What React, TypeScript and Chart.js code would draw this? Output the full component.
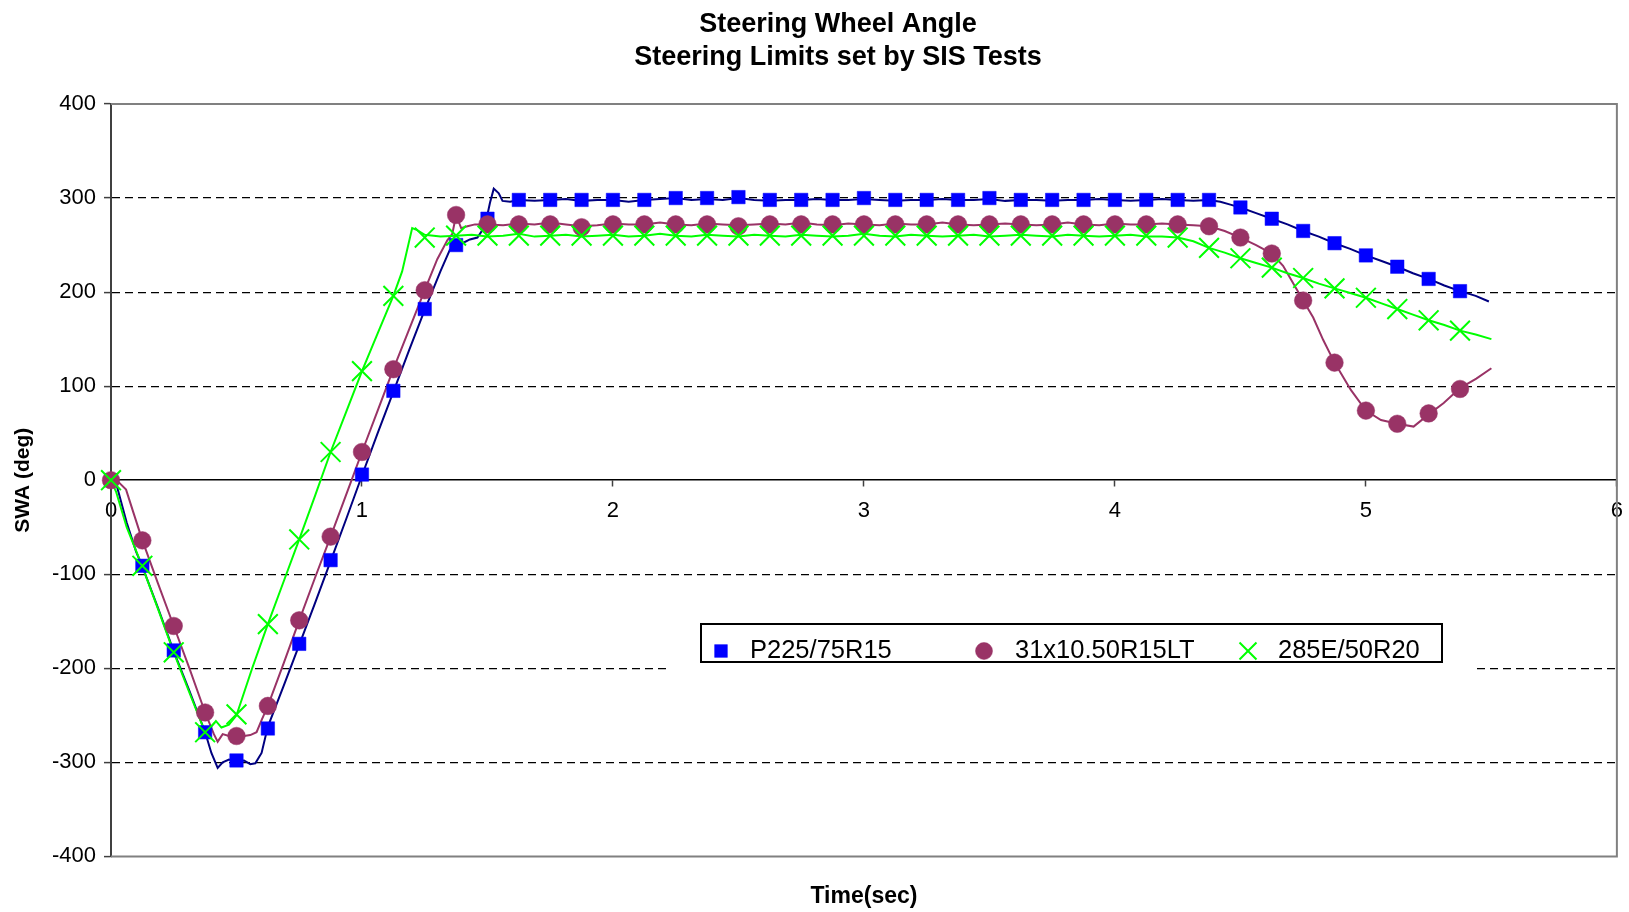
import React, { useEffect, useRef } from 'react';
import { Chart, registerables } from 'chart.js';
import { drawPoint } from 'chart.js/helpers';

Chart.register(...registerables);

const FONT = '"Liberation Sans", Arial, Helvetica, sans-serif';

const TITLE_LINES = ['Steering Wheel Angle', 'Steering Limits set by SIS Tests'];
const X_TITLE = 'Time(sec)';
const Y_TITLE = 'SWA (deg)';
const SERIES_NAMES = ['P225/75R15', '31x10.50R15LT', '285E/50R20'];
const X_TICKS = [0, 1, 2, 3, 4, 5, 6];
const Y_TICKS = [-400, -300, -200, -100, 0, 100, 200, 300, 400];

// marker samples (every 0.125 s)
const MARKER_TIMES = [
  0, 0.125, 0.25, 0.375, 0.5, 0.625, 0.75, 0.875, 1.0, 1.125, 1.25, 1.375, 1.5, 1.625, 1.75,
  1.875, 2.0, 2.125, 2.25, 2.375, 2.5, 2.625, 2.75, 2.875, 3.0, 3.125, 3.25, 3.375, 3.5, 3.625,
  3.75, 3.875, 4.0, 4.125, 4.25, 4.375, 4.5, 4.625, 4.75, 4.875, 5.0, 5.125, 5.25, 5.375,
];
const P225_MARKERS = [
  0, -91, -181, -268, -298, -264, -174, -85, 6, 95, 182, 250, 278, 298, 298, 298, 298, 298, 300,
  300, 301, 298, 298, 298, 300, 298, 298, 298, 300, 298, 298, 298, 298, 298, 298, 298, 290, 278,
  265, 252, 239, 227, 214, 201,
];
const LT31_MARKERS = [
  0, -64, -155, -247, -272, -240, -149, -60, 30, 118, 202, 282, 272, 272, 272, 269, 272, 272, 272,
  272, 270, 272, 272, 272, 272, 272, 272, 272, 272, 272, 272, 272, 272, 272, 272, 270, 258, 241,
  191, 125, 74, 60, 71, 97,
];
const E285_MARKERS = [
  0, -91, -183, -268, -249, -153, -63, 30, 116, 196, 258, 260, 260, 260, 260, 260, 260, 260, 260,
  260, 260, 260, 260, 260, 260, 260, 260, 260, 260, 260, 260, 260, 260, 260, 258, 247, 236, 226,
  215, 204, 194, 182, 170, 159,
];

// continuous traces
const P225_LINE_T = [
  0, 0.02, 0.0625, 0.1, 0.125, 0.1875, 0.25, 0.3125, 0.375, 0.4, 0.425, 0.445, 0.47, 0.5, 0.53,
  0.555, 0.575, 0.6, 0.625, 0.6875, 0.75, 0.8125, 0.875, 0.9375, 1.0, 1.0625, 1.125, 1.1875, 1.25,
  1.3125, 1.35, 1.375, 1.4, 1.43, 1.46, 1.49, 1.51, 1.525, 1.545, 1.56, 1.59, 1.625, 1.6875, 1.75,
  1.8125, 1.875, 1.9375, 2.0, 2.0625, 2.125, 2.1875, 2.25, 2.3125, 2.375, 2.4375, 2.5, 2.5625,
  2.625, 2.6875, 2.75, 2.8125, 2.875, 2.9375, 3.0, 3.0625, 3.125, 3.1875, 3.25, 3.3125, 3.375,
  3.4375, 3.5, 3.5625, 3.625, 3.6875, 3.75, 3.8125, 3.875, 3.9375, 4.0, 4.0625, 4.125, 4.1875,
  4.25, 4.3125, 4.375, 4.42, 4.46, 4.5, 4.5625, 4.625, 4.6875, 4.75, 4.8125, 4.875, 4.9375, 5.0,
  5.0625, 5.125, 5.1875, 5.25, 5.3125, 5.375, 5.4375, 5.49,
];
const P225_LINE_V = [
  0, -3, -45, -76, -92, -136, -182, -224, -268, -290, -306, -300, -297, -299, -298, -302, -301,
  -290, -262, -219, -175, -131, -86, -41, 5, 50, 94, 138, 181, 222, 245, 250, 252, 256, 258, 270,
  295, 310, 305, 297, 296, 298, 297, 298, 299, 297, 298, 298, 296, 298, 299, 300, 298, 299, 298,
  300, 298, 297, 298, 298, 299, 298, 298, 299, 298, 297, 298, 298, 299, 298, 298, 299, 297, 298,
  298, 297, 298, 298, 299, 298, 297, 298, 299, 298, 297, 298, 296, 293, 290, 284, 278, 272, 265,
  259, 252, 246, 239, 233, 227, 220, 214, 207, 201, 196, 190,
];
const LT31_LINE_T = [
  0, 0.03, 0.06, 0.09, 0.125, 0.1875, 0.25, 0.3125, 0.375, 0.41, 0.425, 0.445, 0.47, 0.5, 0.53,
  0.555, 0.58, 0.6, 0.625, 0.6875, 0.75, 0.8125, 0.875, 0.9375, 1.0, 1.0625, 1.125, 1.1875, 1.25,
  1.3, 1.34, 1.36, 1.375, 1.395, 1.42, 1.45, 1.5, 1.5625, 1.625, 1.6875, 1.75, 1.8125, 1.875,
  1.9375, 2.0, 2.0625, 2.125, 2.1875, 2.25, 2.3125, 2.375, 2.4375, 2.5, 2.5625, 2.625, 2.6875,
  2.75, 2.8125, 2.875, 2.9375, 3.0, 3.0625, 3.125, 3.1875, 3.25, 3.3125, 3.375, 3.4375, 3.5,
  3.5625, 3.625, 3.6875, 3.75, 3.8125, 3.875, 3.9375, 4.0, 4.0625, 4.125, 4.1875, 4.25, 4.3125,
  4.375, 4.4375, 4.5, 4.5625, 4.625, 4.67, 4.72, 4.75, 4.79, 4.83, 4.875, 4.94, 5.0, 5.06, 5.125,
  5.19, 5.25, 5.31, 5.375, 5.44, 5.5,
];
const LT31_LINE_V = [
  0, -2, -10, -35, -64, -110, -155, -200, -247, -270, -278, -270, -272, -273, -272, -271, -268,
  -255, -240, -195, -149, -104, -60, -15, 30, 74, 118, 160, 202, 235, 255, 262, 282, 268, 270, 272,
  272, 271, 273, 272, 274, 272, 270, 271, 273, 272, 272, 274, 272, 271, 273, 272, 271, 272, 273,
  272, 274, 272, 271, 273, 272, 271, 273, 272, 272, 274, 272, 271, 272, 273, 272, 271, 272, 274,
  272, 271, 273, 272, 272, 273, 272, 271, 270, 265, 258, 250, 241, 228, 205, 191, 173, 149, 125,
  96, 74, 64, 60, 57, 70, 82, 98, 108, 119,
];
const E285_LINE_T = [
  0, 0.02, 0.0625, 0.125, 0.1875, 0.25, 0.3125, 0.375, 0.4, 0.418, 0.44, 0.47, 0.5, 0.5625, 0.625,
  0.6875, 0.75, 0.8125, 0.875, 0.9375, 1.0, 1.0625, 1.125, 1.16, 1.2, 1.22, 1.25, 1.3125, 1.375,
  1.4375, 1.5, 1.5625, 1.625, 1.6875, 1.75, 1.8125, 1.875, 1.9375, 2.0, 2.0625, 2.125, 2.1875,
  2.25, 2.3125, 2.375, 2.4375, 2.5, 2.5625, 2.625, 2.6875, 2.75, 2.8125, 2.875, 2.9375, 3.0,
  3.0625, 3.125, 3.1875, 3.25, 3.3125, 3.375, 3.4375, 3.5, 3.5625, 3.625, 3.6875, 3.75, 3.8125,
  3.875, 3.9375, 4.0, 4.0625, 4.125, 4.1875, 4.25, 4.3125, 4.375, 4.4375, 4.5, 4.5625, 4.625,
  4.6875, 4.75, 4.8125, 4.875, 4.9375, 5.0, 5.0625, 5.125, 5.1875, 5.25, 5.3125, 5.375, 5.4375,
  5.5,
];
const E285_LINE_V = [
  0, -12, -50, -92, -137, -183, -226, -268, -262, -256, -263, -260, -250, -200, -153, -108, -63,
  -17, 30, 73, 116, 156, 196, 222, 268, 266, 261, 259, 260, 261, 259, 260, 262, 259, 260, 261,
  259, 260, 261, 259, 260, 262, 260, 259, 261, 260, 259, 261, 260, 259, 261, 260, 259, 260, 262,
  260, 259, 261, 260, 259, 260, 261, 259, 260, 261, 260, 259, 261, 260, 259, 260, 261, 259, 259,
  258, 254, 247, 242, 236, 231, 226, 220, 215, 209, 204, 199, 194, 188, 182, 176, 170, 165, 159,
  155, 150,
];

const toPoints = (ts: number[], vs: number[]) => {
  const n = Math.min(ts.length, vs.length);
  const out: { x: number; y: number }[] = [];
  for (let i = 0; i < n; i++) out.push({ x: ts[i], y: vs[i] });
  return out;
};

const MARKER_STYLES = [
  { pointStyle: 'rect', radius: 9.5, fill: '#0000FF', stroke: '#0000FF', borderWidth: 0.5, legendRadius: 9 },
  { pointStyle: 'circle', radius: 8.8, fill: '#993366', stroke: '#993366', borderWidth: 0.5, legendRadius: 8.5 },
  { pointStyle: 'crossRot', radius: 14, fill: '#00FF00', stroke: '#00FF00', borderWidth: 2, legendRadius: 12 },
];
const LINE_COLORS = ['#000080', '#993366', '#00FF00'];

const LEGEND_BOX = {
  maskLeft: 671, maskRight: 1476, maskTop: 617, maskBottom: 676,
  left: 701, right: 1442, top: 624, bottom: 662,
  markerX: [721, 984, 1248], textX: [750, 1015, 1278], midY: 651,
};

const plotFramePlugin = {
  id: 'plotFrame',
  beforeDatasetsDraw(chart: any) {
    const { ctx, chartArea } = chart;
    const { left, right, top, bottom } = chartArea;
    ctx.save();
    ctx.strokeStyle = '#808080';
    ctx.lineWidth = 2;
    ctx.beginPath();
    ctx.moveTo(left, top);
    ctx.lineTo(right, top);
    ctx.lineTo(right, bottom);
    ctx.lineTo(left, bottom);
    ctx.stroke();
    ctx.restore();
  },
};

const boxLegendPlugin = {
  id: 'boxLegend',
  afterDatasetsDraw(chart: any) {
    const { ctx } = chart;
    const L = LEGEND_BOX;
    ctx.save();
    ctx.fillStyle = '#ffffff';
    ctx.fillRect(L.maskLeft, L.maskTop, L.maskRight - L.maskLeft, L.maskBottom - L.maskTop);
    ctx.strokeStyle = '#000000';
    ctx.lineWidth = 2;
    ctx.strokeRect(L.left, L.top, L.right - L.left, L.bottom - L.top);
    SERIES_NAMES.forEach((name, i) => {
      const st = MARKER_STYLES[i];
      ctx.fillStyle = st.fill;
      ctx.strokeStyle = st.stroke;
      ctx.lineWidth = st.borderWidth;
      drawPoint(ctx, { pointStyle: st.pointStyle as any, rotation: 0, radius: st.legendRadius, borderWidth: st.borderWidth }, L.markerX[i], L.midY);
      ctx.fillStyle = '#000000';
      ctx.font = `25.5px ${FONT}`;
      ctx.textAlign = 'left';
      ctx.textBaseline = 'middle';
      ctx.fillText(name, L.textX[i], L.midY);
    });
    ctx.restore();
  },
};

export default function App() {
  const ref = useRef<HTMLCanvasElement>(null);

  useEffect(() => {
    document.body.style.margin = '0';
    const canvas = ref.current;
    if (!canvas) return;
    Chart.defaults.font.family = FONT;
    Chart.defaults.color = '#000';

    const markerSets = [P225_MARKERS, LT31_MARKERS, E285_MARKERS];
    const lineSets = [
      [P225_LINE_T, P225_LINE_V],
      [LT31_LINE_T, LT31_LINE_V],
      [E285_LINE_T, E285_LINE_V],
    ];

    const datasets: any[] = [];
    markerSets.forEach((vals, i) => {
      const st = MARKER_STYLES[i];
      datasets.push({
        label: SERIES_NAMES[i],
        data: toPoints(MARKER_TIMES, vals),
        showLine: false,
        pointStyle: st.pointStyle,
        pointRadius: st.radius,
        pointHoverRadius: st.radius,
        pointBackgroundColor: st.fill,
        pointBorderColor: st.stroke,
        pointBorderWidth: st.borderWidth,
        backgroundColor: st.fill,
        borderColor: st.stroke,
        clip: false,
        order: 2 - i,
      });
    });
    lineSets.forEach(([ts, vs], i) => {
      datasets.push({
        label: SERIES_NAMES[i] + ' trace',
        data: toPoints(ts, vs),
        borderColor: LINE_COLORS[i],
        backgroundColor: LINE_COLORS[i],
        borderWidth: 2,
        pointRadius: 0,
        tension: 0,
        fill: false,
        order: 5 - i,
      });
    });

    const chart = new Chart(canvas, {
      type: 'line',
      data: { datasets },
      plugins: [plotFramePlugin, boxLegendPlugin],
      options: {
        animation: false,
        responsive: false,
        devicePixelRatio: 1,
        events: [],
        parsing: true,
        layout: { autoPadding: false, padding: { left: 52, right: 5, top: 0, bottom: 0 } },
        plugins: {
          legend: { display: false },
          tooltip: { enabled: false },
          title: {
            display: true,
            text: TITLE_LINES,
            color: '#000',
            font: { family: FONT, size: 27, weight: 'bold', lineHeight: '33px' },
            padding: { top: 8, bottom: 30 },
          },
          subtitle: {
            display: true,
            position: 'bottom',
            fullSize: false,
            text: X_TITLE,
            color: '#000',
            font: { family: FONT, size: 23, weight: 'bold', lineHeight: 1.2 },
            padding: { top: 26, bottom: 2 },
          },
        },
        scales: {
          x: {
            type: 'linear',
            position: { y: 0 } as any,
            min: 0,
            max: 6,
            afterBuildTicks: (s: any) => {
              s.ticks = X_TICKS.map((v) => ({ value: v }));
            },
            ticks: { color: '#000', font: { family: FONT, size: 22, lineHeight: '38px' }, padding: 6, maxRotation: 0, autoSkip: false },
            grid: { display: true, drawOnChartArea: false, drawTicks: true, tickLength: 6, tickColor: '#404040', tickWidth: 1.5 },
            border: { display: true, color: '#000', width: 1.5 },
          },
          y: {
            type: 'linear',
            position: 'left',
            min: -400,
            max: 400,
            afterBuildTicks: (s: any) => {
              s.ticks = Y_TICKS.map((v) => ({ value: v }));
            },
            afterFit: (s: any) => {
              s.width = 59;
            },
            ticks: { color: '#000', font: { family: FONT, size: 22 }, padding: 8, autoSkip: false },
            grid: {
              color: (c: any) => {
                const v = c.tick ? c.tick.value : 0;
                return v === 0 || Math.abs(v) === 400 ? 'rgba(0,0,0,0)' : '#000';
              },
              lineWidth: 1.2,
              drawTicks: true,
              tickLength: 7,
              tickColor: '#404040',
              tickWidth: 1.5,
            },
            border: { display: true, color: '#404040', width: 2, dash: [8, 5] },
            title: {
              display: true,
              text: Y_TITLE,
              color: '#000',
              font: { family: FONT, size: 21, weight: 'bold', lineHeight: 1.2 },
              padding: { top: -41.6, bottom: 0 },
            },
          },
        },
      } as any,
    });
    return () => chart.destroy();
  }, []);

  return (
    <div style={{ width: 1629, height: 912, background: '#fff' }}>
      <canvas ref={ref} width={1629} height={912} style={{ display: 'block', width: 1629, height: 912 }} />
    </div>
  );
}
